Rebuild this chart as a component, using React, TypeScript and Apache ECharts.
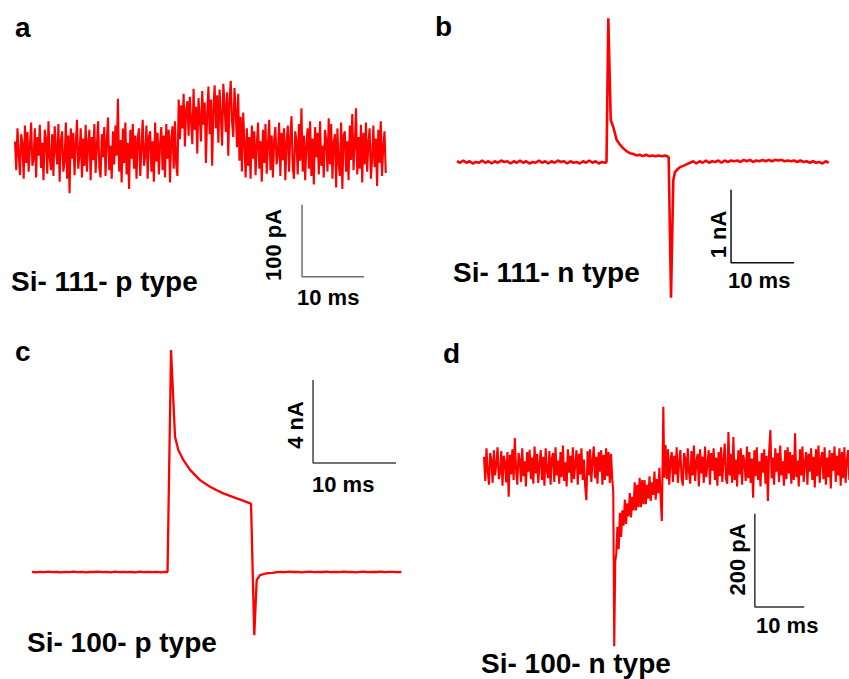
import React, { useEffect, useRef } from "react";
import * as echarts from "echarts";

// ---- a: Si-111 p type, current in pA, one sample every 0.2 ms ----
const A_DT = 0.2;
const A_CURRENT = [
  12, -28, 30, -5, -35, 22, 8, -40, 34, -18, 25, -30, 4, 38, -22, -12, 30, -38, 18, -8,
  35, -25, 10, -42, 28, 15, -33, 40, -10, -28, 22, -36, 33, 2, -20, 36, -44, 14, 26, -30,
  -15, 38, -40, 20, -60, 30, -12, 24, -35, 8, 42, -26, -6, 30, -38, 16, -22, 35, -30, 10,
  28, -42, 18, -14, 36, -32, 5, 40, -24, -38, 22, -10, 32, -36, 12, 45, -28, 6, -40, 26,
  -20, 34, -8, 71, -30, 14, -45, 30, -18, 38, -34, 10, -54, 28, -12, 36, -26, 20, -40, 16,
  30, -36, 4, 42, -22, -8, 34, -40, 18, 26, -30, 12, -44, 38, -16, 24, -34, 8, 32, -28,
  20, -38, 36, -12, 28, -45, 14, 33, -26, 40, -20, -36, 70, 15, 62, 30, 78, 5, 55, 68,
  20, 74, 40, 8, 85, 28, 60, -5, 72, 45, 12, 82, 35, 66, -18, 50, 88, 22, 70, -22,
  58, 90, 30, 76, 10, 84, 48, 6, 92, 62, 25, 80, -8, 70, 96, 40, 18, 86, 55, 4,
  78, -15, 46, -30, 52, 10, -38, 30, -22, 18, -40, 34, -12, 26, -35, 6, 38, -26, 12, -44,
  28, -18, 36, -33, 8, 42, -28, 20, -38, 14, 32, -20, -6, 38, -36, 24, -14, 30, -42, 10,
  34, -30, 18, 47, -24, -40, 26, 12, -34, 36, -15, 58, -30, 20, -42, 8, 30, -26, 40, -36,
  16, -48, 32, -10, 24, -34, 40, -22, 6, -38, 28, 14, -30, 44, -20, 36, -40, 10, 22, -52,
  30, -18, -36, 38, -54, 20, 26, -30, 12, -42, 34, -14, 50, -28, 8, 58, -34, 18, -26, 35,
  -45, 24, -20, 38, -30, 10, 30, -40, -12, 34, -24, 16, -50, 28, -18, 40, -36, 6, 26, -32,
];

// ---- b: Si-111 n type, current in nA ----
const B_DT = 0.5;
const B_PRE = [
  0.01, -0.01, 0.02, -0.01, 0.01, -0.02, 0.0, -0.01, 0.02, -0.01,
  0.01, -0.02, 0.01, -0.01, 0.02, 0.0, 0.01, -0.02, 0.01, -0.01,
  0.02, -0.01, 0.01, -0.02, 0.0, -0.01, 0.02, -0.01, 0.01, -0.02,
  0.01, -0.01, 0.02, 0.0, 0.01, -0.02, 0.01, -0.01, 0.0, -0.02,
  0.01, -0.01, 0.02, -0.01, 0.01, -0.02, 0.0, -0.01,
];
const B_TRANSIENT: [number, number][] = [
  [23.73, 0.0], [24.02, 1.97], [24.4, 0.575], [24.81, 0.48], [25.35, 0.3],
  [25.85, 0.24], [26.35, 0.19], [26.9, 0.15], [27.46, 0.12],
  [28.0, 0.11], [28.5, 0.09], [29.0, 0.1], [29.5, 0.08], [30.0, 0.1],
  [30.5, 0.08], [31.0, 0.09], [31.5, 0.08], [32.0, 0.09], [32.5, 0.08],
  [33.0, 0.09], [33.4, 0.08], [33.6, 0.06],
  [33.97, -1.86], [34.33, -0.25], [34.6, -0.14], [35.0, -0.1], [35.4, -0.07],
  [36.0, -0.05], [36.5, -0.03],
];
const B_POST_START = 37.0;
const B_POST = [
  -0.01, 0.01, -0.02, 0.01, -0.01, 0.02, -0.01, 0.01, 0.0, 0.02,
  -0.01, 0.02, 0.0, 0.02, 0.01, 0.02, 0.0, 0.03, 0.01, 0.03,
  0.0, 0.02, 0.01, 0.03, 0.01, 0.03, 0.01, 0.03, 0.02, 0.03,
  0.01, 0.02, 0.01, 0.02, 0.0, 0.02, 0.0, 0.01, -0.01, 0.01,
  -0.01, 0.0, -0.02, 0.01, -0.01,
];

// ---- c: Si-100 p type, current in nA ----
const C_DT = 0.5;
const C_PRE = [
  0.01, -0.02, 0.01, -0.01, 0.02, -0.01, 0.0, -0.02, 0.01, -0.01,
  0.02, -0.01, 0.01, -0.02, 0.01, 0.0, 0.02, -0.01, 0.01, -0.02,
  0.02, -0.01, 0.01, -0.01, 0.0, -0.02, 0.02, -0.01, 0.01, -0.01,
  0.01, -0.02, 0.01,
];
const C_TRANSIENT: [number, number][] = [
  [16.33, 0.0], [16.75, 10.7], [17.23, 6.52], [17.63, 5.88], [18.23, 5.4],
  [19.04, 4.92], [20.24, 4.43], [21.45, 4.11], [22.2, 3.95], [23.05, 3.79],
  [24.66, 3.55], [25.5, 3.43], [26.27, 3.31], [26.39, 3.28],
  [26.78, -3.04], [27.07, -0.39], [27.47, -0.145], [28.28, -0.06], [29.0, -0.04],
];
const C_POST_START = 29.5;
const C_POST = [
  -0.01, 0.01, -0.01, 0.02, 0.0, 0.01, -0.02, 0.01, 0.02, -0.01,
  0.01, 0.0, 0.02, -0.01, 0.01, -0.01, 0.02, 0.0, 0.01, -0.02,
  0.01, 0.02, -0.01, 0.01, 0.0, 0.02, -0.01, 0.01, 0.01, -0.01,
  0.0,
];

// ---- d: Si-100 n type, current in pA, one sample every 0.25 ms ----
const D_DT = 0.25;
const D_PRE = [
  20, -32, 38, -10, -40, 28, 12, -36, 34, -20, 5, 40, -28, -14, 32, -42, 22, 8, -35, 30,
  -66, 24, -18, 36, -30, 60, -8, -40, 28, 14, -34, 38, -22, 10, -44, 30, -12, 35, -28, 18,
  -38, 42, -16, 26, -36, 6, 34, -30, 20, -42, 38, -10, -26, 32, -40, 16, 28, -34, 40, -20,
  12, -38, 30, -24, 44, -32, 8, -44, 36, -14, 22, -36, 40, -28, 4, 34, -40, 26, -18, 38,
  -30, 14, -42, -73, 32, -20, 36, -34, 10, 42, -26, 20, -38, 30, -12, 34, -40, 24, -30, 38,
  -22, 30, -36, 26, -28,
];
const D_TROUGH: [number, number][] = [[26.2, -55], [26.4, -386], [26.6, -205]];
const D_RECOVERY_START = 26.8;
const D_RECOVERY = [
  -190, -130, -178, -100, -152, -95, -128, -72, -124, -80,
  -108, -58, -110, -66, -95, -35, -95, -40, -88, -25,
  -88, -30, -82, -30, -82, -40, -70, -22, -75, -35,
  -62, -12, -72, -28, -58, -4, -66, -118,
];
const D_SPIKE: [number, number][] = [[36.35, 127], [36.55, -25]];
const D_POST_START = 36.8;
const D_POST = [
  45, -28, 36, -40, 12, 30, -34, 22, -18, 40, -36, 8, 34, -26, -42, 28, 16, -30, 38, -12,
  -38, 32, -20, 44, -32, 10, 26, -44, 36, -16, 20, -36, 42, -24, 6, 34, -40, 28, -10, 38,
  -30, 18, -42, 30, -22, 40, -34, 12, 48, -28, -38, 73, -20, 26, -36, 62, -30, 14, -44, 34,
  -18, 38, -40, 24, 8, -32, 42, -26, 30, -36, 16, -68, 34, -22, 40, -30, 10, -44, 28, -14,
  36, -38, 22, -75, 32, 77, -26, 18, -40, 38, -12, 28, -34, 44, -20, 10, -42, 34, -28, 40,
  -16, 30, -38, 24, -30, 70, -24, 12, -44, 36, -20, 42, -34, 8, 30, -40, 26, -12, 38, -30,
  20, -46, 36, -22, 44, -36, 14, 30, -28, 40, -40, 18, -24, 34, -48, 28, -10, 42, -34, 22,
  -20, 38, -42, 30, -26, 40, -36, 12, 34, -30, 24, -18,
];

// Scale bars: corner position (time, current) and lengths
const BAR_A = { t: 46.3, i: -176, dt: 10, di: 100 }; // 10 ms, 100 pA
const BAR_B = { t: 43.5, i: -1.38, dt: 10, di: 1 }; // 10 ms, 1 nA
const BAR_C = { t: 33.86, i: 5.25, dt: 10, di: 4 }; // 10 ms, 4 nA
const BAR_D = { t: 54.9, i: -302, dt: 10, di: 200 }; // 10 ms, 200 pA

function sampled(start: number, dt: number, values: number[]): [number, number][] {
  return values.map((v, k) => [Math.round((start + k * dt) * 1000) / 1000, v]);
}

function barPoints(b: { t: number; i: number; dt: number; di: number }) {
  return [
    [b.t, b.i + b.di],
    [b.t, b.i],
    [b.t + b.dt, b.i],
  ];
}

const FONT = '"Liberation Sans", Arial, Helvetica, sans-serif';
const RED = "#ff0000";

function label(text: string, x: number, y: number, size: number, rotate = false, align = "left") {
  return {
    type: "text",
    x,
    y,
    rotation: rotate ? Math.PI / 2 : 0,
    silent: true,
    style: {
      text,
      fill: "#000",
      font: `bold ${size}px ${FONT}`,
      textAlign: rotate ? "center" : align,
      textVerticalAlign: "middle",
      align: rotate ? "center" : align,
      verticalAlign: "middle",
    },
  };
}

export default function App() {
  const ref = useRef<HTMLDivElement>(null);

  useEffect(() => {
    if (!ref.current) return;
    const chart = echarts.init(ref.current, undefined, { renderer: "svg" });

    const traceA = sampled(0, A_DT, A_CURRENT);
    const traceB = [
      ...sampled(0, B_DT, B_PRE),
      ...B_TRANSIENT,
      ...sampled(B_POST_START, B_DT, B_POST),
    ];
    const traceC = [
      ...sampled(0, C_DT, C_PRE),
      ...C_TRANSIENT,
      ...sampled(C_POST_START, C_DT, C_POST),
    ];
    const traceD = [
      ...sampled(0, D_DT, D_PRE),
      ...D_TROUGH,
      ...sampled(D_RECOVERY_START, D_DT, D_RECOVERY),
      ...D_SPIKE,
      ...sampled(D_POST_START, D_DT, D_POST),
    ];

    const grids = [
      { left: 15, top: 78, width: 372, height: 216 },
      { left: 457, top: 1.4, width: 378, height: 306.6 },
      { left: 32, top: 333.4, width: 373.5, height: 321.6 },
      { left: 484, top: 372.7, width: 370, height: 280 },
    ];
    const xRanges = [[0, 60], [0, 60], [0, 45], [0, 75]];
    const yRanges = [[-200, 100], [-2.0, 2.2], [-4, 11.5], [-400, 200]];

    const trace = (k: number, data: any[], width: number) => ({
      type: "line",
      xAxisIndex: k,
      yAxisIndex: k,
      data,
      symbol: "none",
      silent: true,
      clip: false,
      lineStyle: { color: RED, width, join: "bevel" },
      z: 2,
    });
    const bar = (k: number, b: any, color: string) => ({
      type: "line",
      xAxisIndex: k,
      yAxisIndex: k,
      data: barPoints(b),
      symbol: "none",
      silent: true,
      clip: false,
      lineStyle: { color, width: 1.5 },
      z: 1,
    });

    chart.setOption({
      animation: false,
      backgroundColor: "#ffffff",
      grid: grids.map((g) => ({ ...g, containLabel: false, outerBoundsMode: "none" })),
      xAxis: xRanges.map((r, k) => ({
        type: "value",
        gridIndex: k,
        min: r[0],
        max: r[1],
        show: false,
      })),
      yAxis: yRanges.map((r, k) => ({
        type: "value",
        gridIndex: k,
        min: r[0],
        max: r[1],
        show: false,
      })),
      series: [
        trace(0, traceA, 2.1),
        trace(1, traceB, 2.6),
        trace(2, traceC, 2.3),
        trace(3, traceD, 2.1),
        bar(0, BAR_A, "#6e6e6e"),
        bar(1, BAR_B, "#111111"),
        bar(2, BAR_C, "#444444"),
        bar(3, BAR_D, "#333333"),
      ],
      graphic: [
        label("a", 15, 27.6, 28),
        label("b", 435, 26.3, 28),
        label("c", 15, 351.3, 28),
        label("d", 443, 353, 28),
        label("Si- 111- p type", 11, 281.6, 28),
        label("Si- 111- n type", 453, 272, 28),
        label("Si- 100- p type", 27, 642, 28),
        label("Si- 100- n type", 481, 663.6, 28),
        label("100 pA", 273.7, 245, 22, true),
        label("1 nA", 718.4, 234.5, 22, true),
        label("4 nA", 295.4, 425, 22, true),
        label("200 pA", 737.4, 559.5, 22, true),
        label("10 ms", 297, 297.4, 22),
        label("10 ms", 728, 280.4, 22),
        label("10 ms", 312, 484, 22),
        label("10 ms", 756, 625.4, 22),
      ],
    });

    return () => chart.dispose();
  }, []);

  return (
    <div
      ref={ref}
      style={{ position: "absolute", left: 0, top: 0, width: 849, height: 679, background: "#fff" }}
    />
  );
}
